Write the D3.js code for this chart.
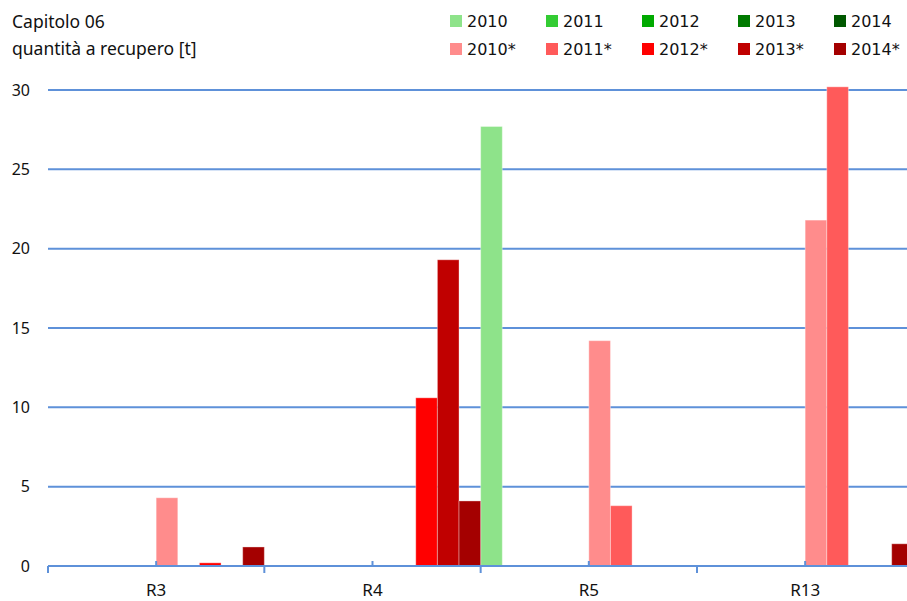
<!DOCTYPE html>
<html><head><meta charset="utf-8">
<script src="https://cdn.jsdelivr.net/npm/d3@7"></script>
<style>body{margin:0;background:#fff;overflow:hidden}</style>
</head><body>
<script>
const categories = ["R3", "R4", "R5", "R13"];
const seriesNames = ["2010","2011","2012","2013","2014","2010*","2011*","2012*","2013*","2014*"];
const seriesColors = ["#8ee38a","#33cc33","#00aa00","#007a00","#005800","#ff8c8c","#ff5a5a","#ff0000","#c00000","#a40000"];
// values[series][category]
const s2010  = [0, 0, 27.7, 0];
const s2011  = [0, 0, 0, 0];
const s2012  = [0, 0, 0, 0];
const s2013  = [0, 0, 0, 0];
const s2014  = [0, 0, 0, 0];
const s2010s = [4.3, 0, 14.2, 21.8];
const s2011s = [0, 0, 3.8, 30.2];
const s2012s = [0.2, 10.6, 0, 0];
const s2013s = [0, 19.3, 0, 0];
const s2014s = [1.2, 4.1, 0, 1.4];
const seriesValues = [s2010,s2011,s2012,s2013,s2014,s2010s,s2011s,s2012s,s2013s,s2014s];
const yTicks = [0,5,10,15,20,25,30];

const W = 907, H = 601;
const svg = d3.select("body").append("svg").attr("width", W).attr("height", H);

const x0 = d3.scaleBand().domain(categories).range([48, 48 + 4*216.33]).padding(0);
const x1 = d3.scaleBand().domain(seriesNames).range([0, x0.bandwidth()]).padding(0);
const y = d3.scaleLinear().domain([0, 30]).range([566, 90]);

const gridColor = "#5e91d9";
// gridlines
svg.append("g").selectAll("line").data(yTicks.filter(d => d > 0)).join("line")
  .attr("x1", 48).attr("x2", W).attr("y1", d => y(d)).attr("y2", d => y(d))
  .attr("stroke", gridColor).attr("stroke-width", 2);

// y tick labels
svg.append("g").selectAll("text").data(yTicks).join("text")
  .attr("x", 30).attr("y", d => y(d)).attr("dy", "0.35em")
  .attr("text-anchor", "end").attr("font-family", "Noto Sans, sans-serif")
  .attr("font-size", 16).attr("fill", "#111").text(d => d);

// bars
const data = [];
seriesNames.forEach((s, i) => categories.forEach((c, j) => {
  if (seriesValues[i][j] > 0) data.push({s, c, v: seriesValues[i][j], col: seriesColors[i]});
}));
svg.append("g").selectAll("rect").data(data).join("rect")
  .attr("x", d => x0(d.c) + x1(d.s))
  .attr("width", x1.bandwidth())
  .attr("y", d => y(d.v))
  .attr("height", d => y(0) - y(d.v))
  .attr("fill", d => d.col)
  .attr("stroke", "rgba(255,255,255,0.35)").attr("stroke-width", 1);

// x axis line
svg.append("line").attr("x1", 48).attr("x2", W).attr("y1", y(0)).attr("y2", y(0))
  .attr("stroke", gridColor).attr("stroke-width", 2);
// category boundary ticks
svg.append("g").selectAll("line").data(categories).join("line")
  .attr("x1", d => x0(d)).attr("x2", d => x0(d))
  .attr("y1", y(0)).attr("y2", y(0) + 7)
  .attr("stroke", gridColor).attr("stroke-width", 2);
// small upward ticks
svg.append("g").selectAll("line").data(categories).join("line")
  .attr("x1", d => x0(d) + x1("2010*")).attr("x2", d => x0(d) + x1("2010*"))
  .attr("y1", y(0)).attr("y2", y(0) - 5)
  .attr("stroke", gridColor).attr("stroke-width", 2);

// category labels
svg.append("g").selectAll("text").data(categories).join("text")
  .attr("x", d => x0(d) + x0.bandwidth()/2).attr("y", 596)
  .attr("text-anchor", "middle").attr("font-family", "Noto Sans, sans-serif")
  .attr("font-size", 17).attr("fill", "#111").text(d => d);

// title
const title = svg.append("text").attr("font-family", "Noto Sans, sans-serif")
  .attr("font-size", 17.5).attr("fill", "#111");
title.append("tspan").attr("x", 12).attr("y", 28).text("Capitolo 06");
title.append("tspan").attr("x", 12).attr("y", 55).text("quantità a recupero [t]");

// legend
const leg = svg.append("g").selectAll("g").data(seriesNames).join("g")
  .attr("transform", (d, i) => `translate(${450 + (i % 5) * 96},${i < 5 ? 15 : 43})`);
leg.append("rect").attr("width", 12).attr("height", 12).attr("fill", (d, i) => seriesColors[i]);
leg.append("text").attr("x", 17).attr("y", 6).attr("dy", "0.38em")
  .attr("font-family", "DejaVu Sans, sans-serif").attr("font-size", 16).attr("fill", "#111")
  .text(d => d);
</script>
</body></html>
